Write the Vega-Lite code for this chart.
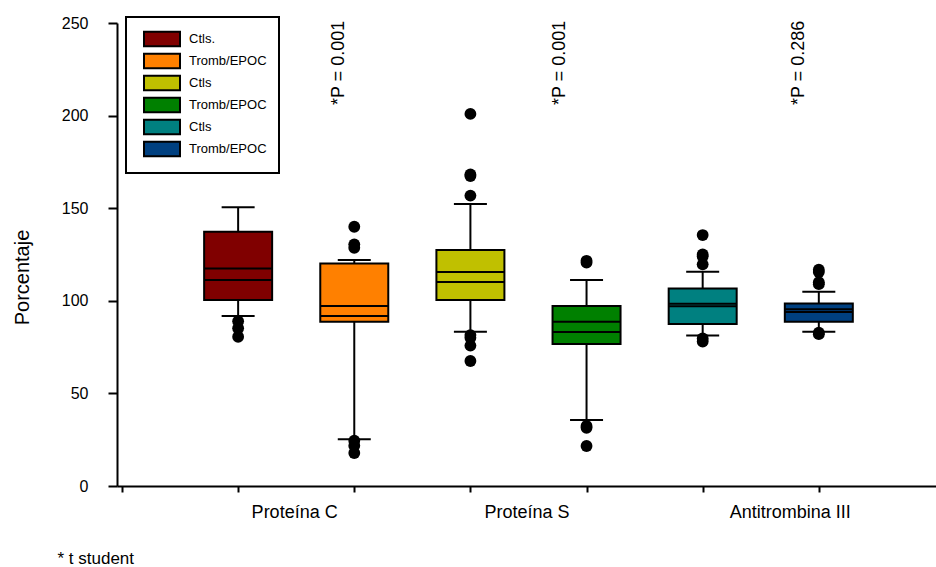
{
  "$schema": "https://vega.github.io/schema/vega-lite/v6.json",
  "width": 819,
  "height": 463,
  "autosize": {"type": "none"},
  "padding": {"left": 117, "top": 23, "right": 0, "bottom": 81},
  "background": "white",
  "config": {"view": {"stroke": null}, "font": "Liberation Sans", "legend": {"strokeWidth": 2}},
  "datasets": {
    "boxes": [
      {"pos": 1, "series": "PC_Ctls", "lower": 91.8, "q1": 100.4, "l1": 111.2, "l2": 117.5, "q3": 137.3, "upper": 150.5},
      {"pos": 2, "series": "PC_Tromb", "lower": 25.2, "q1": 88.7, "l1": 91.8, "l2": 97.2, "q3": 120.2, "upper": 122.0},
      {"pos": 3, "series": "PS_Ctls", "lower": 83.3, "q1": 100.4, "l1": 110.2, "l2": 115.6, "q3": 127.4, "upper": 152.3},
      {"pos": 4, "series": "PS_Tromb", "lower": 35.6, "q1": 76.7, "l1": 83.2, "l2": 88.7, "q3": 97.2, "upper": 111.2},
      {"pos": 5, "series": "AT_Ctls", "lower": 81.2, "q1": 87.5, "l1": 97.0, "l2": 98.4, "q3": 106.7, "upper": 115.7},
      {"pos": 6, "series": "AT_Tromb", "lower": 83.3, "q1": 88.7, "l1": 94.0, "l2": 95.4, "q3": 98.6, "upper": 104.9}
    ],
    "outliers": [
      {"pos": 1, "value": 89.0}, {"pos": 1, "value": 85.2}, {"pos": 1, "value": 80.6},
      {"pos": 2, "value": 140.0}, {"pos": 2, "value": 130.5}, {"pos": 2, "value": 128.6},
      {"pos": 2, "value": 24.5}, {"pos": 2, "value": 21.8}, {"pos": 2, "value": 17.8},
      {"pos": 3, "value": 200.9}, {"pos": 3, "value": 168.2}, {"pos": 3, "value": 167.4}, {"pos": 3, "value": 156.8},
      {"pos": 3, "value": 81.5}, {"pos": 3, "value": 80.0}, {"pos": 3, "value": 75.8}, {"pos": 3, "value": 67.5},
      {"pos": 4, "value": 121.6}, {"pos": 4, "value": 120.6},
      {"pos": 4, "value": 32.4}, {"pos": 4, "value": 31.4}, {"pos": 4, "value": 21.6},
      {"pos": 5, "value": 135.5}, {"pos": 5, "value": 125.1}, {"pos": 5, "value": 124.0}, {"pos": 5, "value": 119.7},
      {"pos": 5, "value": 79.7}, {"pos": 5, "value": 78.0},
      {"pos": 6, "value": 116.8}, {"pos": 6, "value": 115.5}, {"pos": 6, "value": 110.0}, {"pos": 6, "value": 109.0},
      {"pos": 6, "value": 82.8}, {"pos": 6, "value": 82.0}
    ],
    "pvals": [
      {"pos": 1.871, "yv": 205.7, "label": "*P = 0.001"},
      {"pos": 3.768, "yv": 205.7, "label": "*P = 0.001"},
      {"pos": 5.826, "yv": 205.7, "label": "*P = 0.286"}
    ]
  },
  "encoding": {
    "x": {
      "field": "pos",
      "type": "quantitative",
      "scale": {"domain": [0, 6.966], "nice": false, "zero": false},
      "axis": {
        "values": [0, 1, 2, 3, 4, 5, 6],
        "grid": false,
        "tickSize": 6,
        "tickWidth": 2,
        "tickColor": "black",
        "domainColor": "black",
        "domainWidth": 2,
        "labelExpr": "datum.value == 1 ? 'Proteína C' : datum.value == 3 ? 'Proteína S' : datum.value == 5 ? 'Antitrombina III' : ''",
        "labelOffset": {"condition": {"test": "datum.value == 5", "value": 87}, "value": 56},
        "labelFont": "Liberation Sans",
        "labelFontSize": 18,
        "labelColor": "black",
        "labelBaseline": "alphabetic",
        "labelPadding": 25,
        "labelFlush": false,
        "labelOverlap": false,
        "title": "* t student",
        "titleFont": "Liberation Sans",
        "titleFontSize": 17,
        "titleFontWeight": "normal",
        "titleColor": "black",
        "titleX": -60,
        "titleY": 77,
        "titleAlign": "left",
        "titleBaseline": "alphabetic",
        "titleAnchor": "start"
      }
    }
  },
  "layer": [
    {
      "data": {"name": "boxes"},
      "mark": {"type": "rule", "color": "black", "strokeWidth": 2},
      "encoding": {
        "y": {
          "field": "lower",
          "type": "quantitative",
          "scale": {"domain": [0, 250], "nice": false},
          "axis": {
            "title": "Porcentaje",
            "values": [0, 50, 100, 150, 200, 250],
            "grid": false,
            "tickSize": 9,
            "tickWidth": 2,
            "tickColor": "black",
            "domainColor": "black",
            "domainWidth": 2,
            "labelFont": "Liberation Sans",
            "labelFontSize": 16,
            "labelColor": "black",
            "labelPadding": 20,
            "titleFont": "Liberation Sans",
            "titleFontSize": 20,
            "titleFontWeight": "normal",
            "titleColor": "black",
            "titleX": -95,
            "titleY": 254,
            "titleAngle": 270,
            "titleAlign": "center",
            "titleBaseline": "middle"
          }
        },
        "y2": {"field": "upper"}
      }
    },
    {
      "data": {"name": "boxes"},
      "mark": {"type": "tick", "orient": "horizontal", "size": 33, "thickness": 2, "color": "black", "opacity": 1},
      "encoding": {"y": {"field": "upper", "type": "quantitative", "scale": {"domain": [0, 250], "nice": false}}}
    },
    {
      "data": {"name": "boxes"},
      "mark": {"type": "tick", "orient": "horizontal", "size": 33, "thickness": 2, "color": "black", "opacity": 1},
      "encoding": {"y": {"field": "lower", "type": "quantitative", "scale": {"domain": [0, 250], "nice": false}}}
    },
    {
      "data": {"name": "boxes"},
      "mark": {"type": "bar", "width": 68, "stroke": "black", "strokeWidth": 2, "opacity": 1},
      "encoding": {
        "y": {"field": "q1", "type": "quantitative", "scale": {"domain": [0, 250], "nice": false}},
        "y2": {"field": "q3"},
        "fill": {
          "field": "series",
          "type": "nominal",
          "scale": {
            "domain": ["PC_Ctls", "PC_Tromb", "PS_Ctls", "PS_Tromb", "AT_Ctls", "AT_Tromb"],
            "range": ["#800000", "#FF8000", "#C0C000", "#008000", "#008080", "#004080"]
          },
          "legend": {
            "title": null,
            "orient": "none",
            "legendX": 9,
            "legendY": -6,
            "direction": "vertical",
            "padding": 12,
            "strokeColor": "black",
            "fillColor": "white",
            "symbolType": "M-2,-0.8H2V0.8H-2Z",
            "symbolSize": 324,
            "symbolOffset": 14,
            "symbolStrokeColor": "black",
            "symbolStrokeWidth": 2,
            "symbolOpacity": 1,
            "labelFont": "Liberation Sans",
            "labelFontSize": 13,
            "labelColor": "black",
            "labelOffset": 17,
            "rowPadding": -6,
            "labelExpr": "datum.label == 'PC_Ctls' ? 'Ctls.' : indexof(datum.label, 'Ctls') >= 0 ? 'Ctls' : 'Tromb/EPOC'"
          }
        }
      }
    },
    {
      "data": {"name": "boxes"},
      "mark": {"type": "tick", "orient": "horizontal", "size": 68, "thickness": 2, "color": "black", "opacity": 1},
      "encoding": {"y": {"field": "l1", "type": "quantitative", "scale": {"domain": [0, 250], "nice": false}}}
    },
    {
      "data": {"name": "boxes"},
      "mark": {"type": "tick", "orient": "horizontal", "size": 68, "thickness": 2, "color": "black", "opacity": 1},
      "encoding": {"y": {"field": "l2", "type": "quantitative", "scale": {"domain": [0, 250], "nice": false}}}
    },
    {
      "data": {"name": "outliers"},
      "mark": {"type": "point", "filled": true, "color": "black", "size": 140, "opacity": 1},
      "encoding": {"y": {"field": "value", "type": "quantitative", "scale": {"domain": [0, 250], "nice": false}}}
    },
    {
      "data": {"name": "pvals"},
      "mark": {"type": "text", "angle": 270, "align": "left", "baseline": "middle", "font": "Liberation Sans", "fontSize": 18, "color": "black"},
      "encoding": {
        "y": {"field": "yv", "type": "quantitative", "scale": {"domain": [0, 250], "nice": false}},
        "text": {"field": "label"}
      }
    }
  ]
}
